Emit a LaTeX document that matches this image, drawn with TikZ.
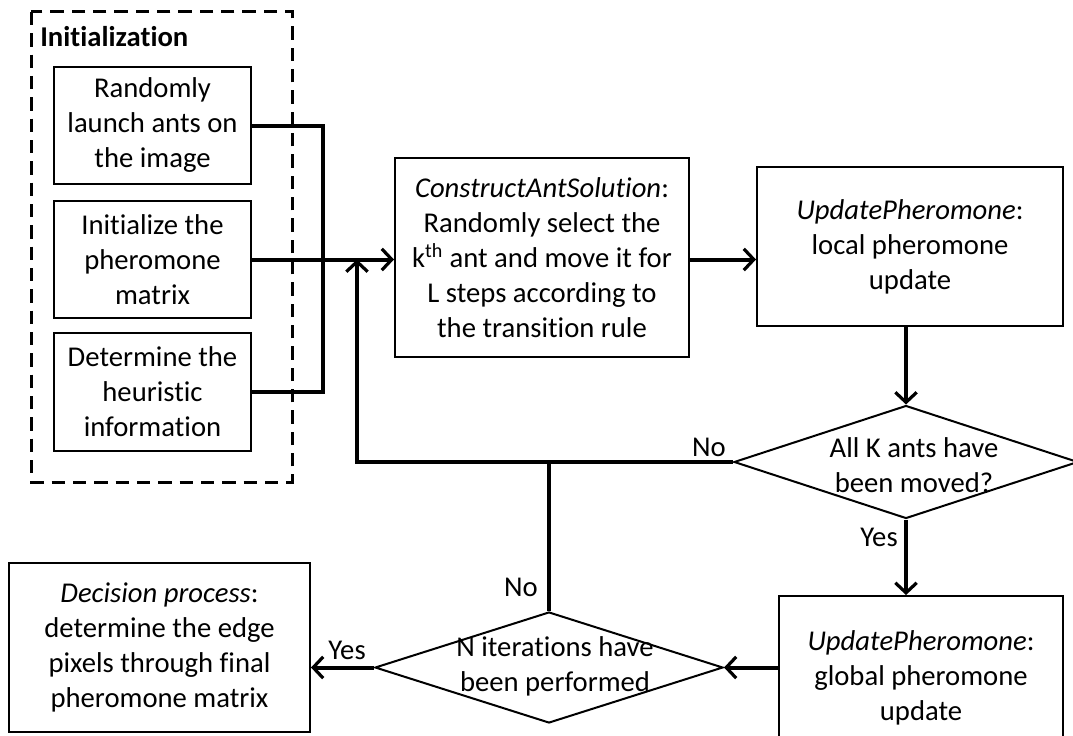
\documentclass[tikz,border=0pt]{standalone}
\usepackage{fontspec}
\setmainfont{Carlito}[Ligatures={NoCommon}]
\usetikzlibrary{arrows.meta,shapes.geometric,calc}
\begin{document}
\begin{tikzpicture}[x=0.75pt,y=-0.75pt,
  every node/.style={font=\fontsize{21.5}{26.25}\selectfont},
  box/.style={draw,line width=1.5pt,align=center,inner sep=0pt},
  dia/.style={draw,diamond,line width=1.5pt,inner sep=0pt},
  txt/.style={align=center,inner sep=0pt},
  conn/.style={line width=3pt},
  arr/.style={conn,-{Straight Barb[length=7.5pt,width=16pt,line width=2.4pt]}},
  lbl/.style={inner sep=0pt}
]
\clip (0,0) rectangle (1073,735);

% initialization group
\draw[line width=2.25pt,dash pattern=on 10pt off 6pt] (31,12) rectangle (292,482);
\node[lbl,anchor=west,font=\fontsize{21.5}{26.25}\selectfont\bfseries] (initlbl) at (40,37) {Initialization};

\node[box,minimum width={197*0.75pt},minimum height={117*0.75pt}] (b1) at (152.5,125.5)
  {Randomly\\launch ants on\\the image};
\node[box,minimum width={197*0.75pt},minimum height={117*0.75pt}] (b2) at (152.5,259.5)
  {Initialize the\\pheromone\\matrix};
\node[box,minimum width={197*0.75pt},minimum height={118*0.75pt}] (b3) at (152.5,392)
  {Determine the\\heuristic\\information};

% main loop
\node[box,minimum width={294*0.75pt},minimum height={199*0.75pt}] (cons) at (542,257.5)
  {\textit{ConstructAntSolution}:\\Randomly select the\\k\textsuperscript{th} ant and move it for\\L steps according to\\the transition rule};
\node[box,minimum width={306*0.75pt},minimum height={159*0.75pt}] (local) at (910,246.5)
  {\textit{UpdatePheromone}:\\local pheromone\\update};
\node[dia,minimum width={344*0.75pt},minimum height={113*0.75pt}] (d1) at (906,462) {};
\node[txt] (d1t) at (914,465) {All K ants have\\been moved?};
\node[box,minimum width={284*0.75pt},minimum height={164*0.75pt}] (glob) at (921,678)
  {\textit{UpdatePheromone}:\\global pheromone\\update};
\node[dia,minimum width={348*0.75pt},minimum height={111*0.75pt}] (d2) at (549,667.5) {};
\node[txt] (d2t) at (555,666) {N iterations have\\been performed};
\node[box,minimum width={301*0.75pt},minimum height={169*0.75pt}] (dec) at (159.5,647.5)
  {\textit{Decision process}:\\determine the edge\\pixels through final\\pheromone matrix};

% connectors
\coordinate (bus) at (323,0);
\draw[conn,line join=miter] (b1.east) -- (b1.east -| bus) -- (b3.east -| bus) -- (b3.east);
\draw[arr] (b2.east) -- (b2.east -| cons.west);
\coordinate (fb) at (357,259.5);
\draw[arr,line join=miter] (d1.west) -- (d1.west -| fb) -- (fb);
\draw[conn] (d2.north) -- (d2.north |- d1.west);
\draw[arr] (cons.east |- fb) -- (fb -| local.west);
\draw[arr] (local.south -| d1.north) -- (d1.north);
\draw[arr] (d1.south) -- (glob.north -| d1.south);
\draw[arr] (glob.west |- d2.east) -- (d2.east);
\draw[arr] (d2.west) -- (d2.west -| dec.east);

% branch labels
\node[lbl] (no1) at (709,447) {No};
\node[lbl] (no2) at (521,587) {No};
\node[lbl] (yes1) at (879,537) {Yes};
\node[lbl] (yes2) at (347,650) {Yes};
\end{tikzpicture}
\end{document}
